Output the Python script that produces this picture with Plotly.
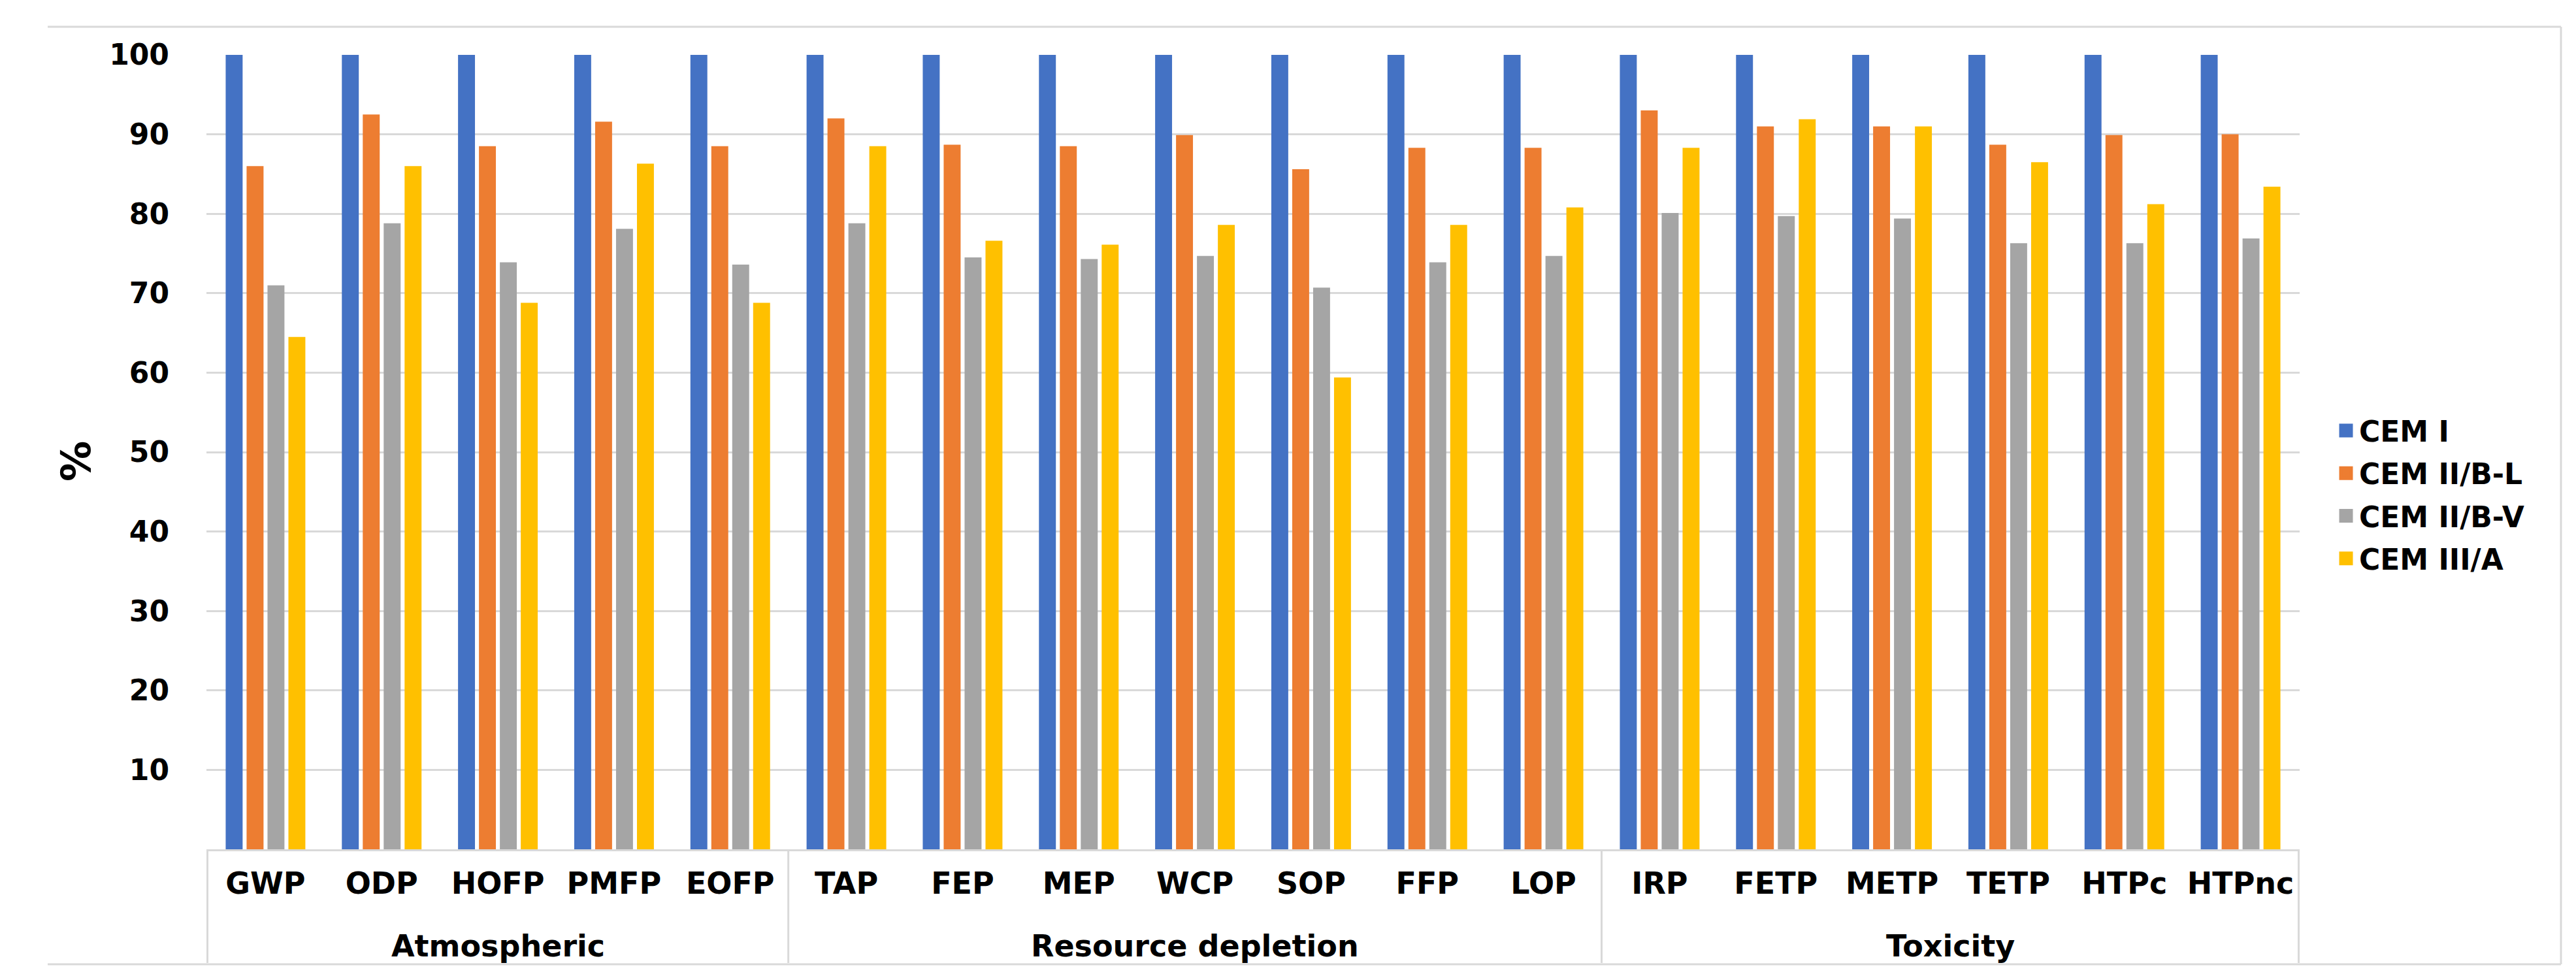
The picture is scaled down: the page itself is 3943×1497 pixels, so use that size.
import plotly.graph_objects as go

categories = ["GWP", "ODP", "HOFP", "PMFP", "EOFP",
              "TAP", "FEP", "MEP", "WCP", "SOP", "FFP", "LOP",
              "IRP", "FETP", "METP", "TETP", "HTPc", "HTPnc"]
groups = ["Atmospheric", "Resource depletion", "Toxicity"]
group_sizes = [5, 7, 6]

cem_i = [100] * 18
cem_ii_bl = [86.0, 92.5, 88.5, 91.6, 88.5,
             92.0, 88.7, 88.5, 89.9, 85.6, 88.3, 88.3,
             93.0, 91.0, 91.0, 88.7, 89.9, 90.0]
cem_ii_bv = [71.0, 78.8, 73.9, 78.1, 73.6,
             78.8, 74.5, 74.3, 74.7, 70.7, 73.9, 74.7,
             80.1, 79.7, 79.4, 76.3, 76.3, 76.9]
cem_iii_a = [64.5, 86.0, 68.8, 86.3, 68.8,
             88.5, 76.6, 76.1, 78.6, 59.4, 78.6, 80.8,
             88.3, 91.9, 91.0, 86.5, 81.2, 83.4]

series_names = ["CEM I", "CEM II/B-L", "CEM II/B-V", "CEM III/A"]
series_values = [cem_i, cem_ii_bl, cem_ii_bv, cem_iii_a]
colors = ["#4472C4", "#ED7D31", "#A5A5A5", "#FFC000"]
y_ticks = [10, 20, 30, 40, 50, 60, 70, 80, 90, 100]

FONT = "DejaVu Sans"
GRID = "#d9d9d9"

fig = go.Figure()
for name, vals, col in zip(series_names, series_values, colors):
    fig.add_trace(go.Bar(x=categories, y=vals, name=name, marker_color=col,
                         marker_line_width=0, showlegend=False))
# legend entries with larger square swatches (no data drawn)
for name, col in zip(series_names, colors):
    fig.add_trace(go.Scatter(x=[None], y=[None], mode="markers", name=name,
                             marker=dict(symbol="square", size=26, color=col,
                                         line=dict(color=col, width=5)),
                             legendgroup=name, hoverinfo="skip"))

W, H = 3943, 1497
L, R, T, B = 308, 431, 76, 205
pw, ph = W - L - R, H - T - B

def px_x(px):
    return (px - L) / pw

def px_y(py):
    return 1 - (py - T) / ph

shapes = []
bounds = [-0.5]
acc = -0.5
for s in group_sizes:
    acc += s
    bounds.append(acc)
for b in bounds:
    shapes.append(dict(type="line", xref="x", yref="paper", x0=b, x1=b,
                       y0=0, y1=px_y(1466), line=dict(color=GRID, width=3)))
x_left, x_right = px_x(65), px_x(3912)
y_top, y_bot = px_y(33), px_y(1468)
shapes.append(dict(type="line", xref="paper", yref="paper", x0=x_left, x1=x_right,
                   y0=y_top, y1=y_top, line=dict(color=GRID, width=3)))
shapes.append(dict(type="line", xref="paper", yref="paper", x0=x_left, x1=x_right,
                   y0=y_bot, y1=y_bot, line=dict(color=GRID, width=3)))
shapes.append(dict(type="line", xref="paper", yref="paper", x0=x_right, x1=x_right,
                   y0=y_top, y1=y_bot, line=dict(color=GRID, width=3)))

annotations = []
start = 0
for g, s in zip(groups, group_sizes):
    center = start + (s - 1) / 2
    annotations.append(dict(x=center, xref="x", y=px_y(1440), yref="paper",
                            text=g, showarrow=False, xanchor="center", yanchor="middle",
                            font=dict(family=FONT, size=46, color="black", weight="bold")))
    start += s
annotations.append(dict(x=px_x(108), y=px_y(698), xref="paper", yref="paper",
                        text="%", showarrow=False, textangle=-90,
                        xanchor="center", yanchor="middle",
                        font=dict(family=FONT, size=62, color="black", weight="bold")))

fig.update_layout(
    width=W, height=H,
    margin=dict(l=L, r=R, t=T, b=B, autoexpand=False),
    paper_bgcolor="white", plot_bgcolor="white",
    barmode="group", bargap=0.28, bargroupgap=0.19,
    font=dict(family=FONT, color="black"),
    shapes=shapes, annotations=annotations,
    legend=dict(x=px_x(3563), xanchor="left", y=px_y(749), yanchor="middle",
                font=dict(family=FONT, size=44, color="black", weight="bold"),
                tracegroupgap=5, itemwidth=30, bgcolor="rgba(0,0,0,0)"),
    showlegend=True,
)
fig.update_xaxes(type="category", showline=True, linecolor=GRID, linewidth=3,
                 showgrid=False, ticks="", ticklabelstandoff=10,
                 tickfont=dict(family=FONT, size=46, color="black", weight="bold"))
fig.update_yaxes(range=[0, 100], tickvals=y_ticks, showgrid=True, gridcolor=GRID,
                 gridwidth=3, zeroline=False, showline=False, ticks="",
                 ticklabelstandoff=56,
                 tickfont=dict(family=FONT, size=44, color="black", weight="bold"))

fig.write_html("out.html")
